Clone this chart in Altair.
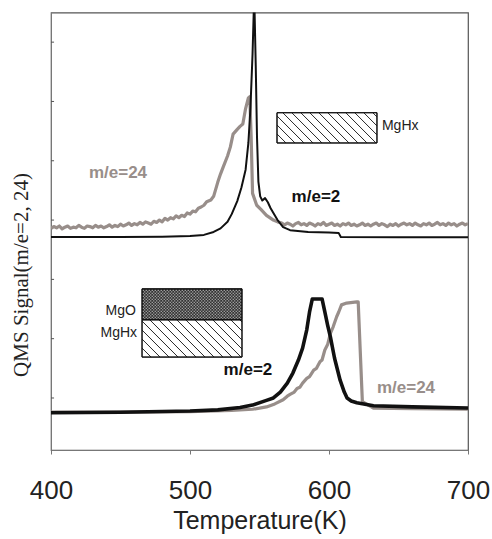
import altair as alt
import pandas as pd

# ---------------- data ----------------
# upper trace, m/e=24 (gray)
up24_T = [400, 402, 404, 406, 408, 410, 412, 414, 416, 418, 420, 422, 424, 426, 428, 430, 432, 434, 436, 438,
          440, 442, 444, 446, 448, 450, 452, 454, 456, 458, 460, 462, 464, 466, 468, 470, 472, 474, 476, 478,
          480, 482, 484, 486, 488, 490, 492, 494, 496, 498, 500, 502, 504, 506, 508, 510, 512, 515, 517, 520,
          522, 524, 527, 529, 531, 534, 536, 538, 540, 542, 543, 544, 545, 548, 551, 555, 560, 563,
          566, 568, 570, 572, 574, 576, 578, 580, 582, 584, 586, 588, 590, 592, 594, 596, 598, 600,
          602, 604, 606, 608, 610, 612, 614, 616, 618, 620, 622, 624, 626, 628, 630, 632, 634, 636,
          638, 640, 642, 644, 646, 648, 650, 652, 654, 656, 658, 660, 662, 664, 666, 668, 670, 672,
          674, 676, 678, 680, 682, 684, 686, 688, 690, 692, 694, 696, 698, 700]
up24_S = [2.86, 2.89, 2.87, 2.90, 2.85, 2.88, 2.90, 2.86, 2.88, 2.87, 2.91, 2.88, 2.86, 2.90, 2.89, 2.87, 2.91, 2.88, 2.90, 2.87,
          2.89, 2.92, 2.88, 2.91, 2.89, 2.93, 2.90, 2.92, 2.95, 2.91, 2.94, 2.92, 2.96, 2.93, 2.97, 2.95, 2.93, 2.98, 2.96, 3.00,
          2.97, 3.03, 3.00, 3.04, 3.02, 3.07, 3.04, 3.08, 3.06, 3.12, 3.10, 3.15, 3.14, 3.20, 3.22, 3.25, 3.31, 3.34, 3.40, 3.64,
          3.78, 3.90, 4.08, 4.23, 4.45, 4.53, 4.58, 4.62, 4.88, 5.06, 5.08, 4.40, 3.45, 3.25, 3.18, 3.08, 3.00, 2.97,
          2.95, 2.92, 2.95, 2.93, 2.90, 2.94, 2.96, 2.92, 2.94, 2.91, 2.95, 2.93, 2.90, 2.94, 2.92, 2.96, 2.91, 2.93,
          2.95, 2.91, 2.93, 2.90, 2.94, 2.92, 2.95, 2.91, 2.93, 2.90, 2.92, 2.95, 2.91, 2.93, 2.90, 2.93, 2.95, 2.91,
          2.94, 2.92, 2.89, 2.93, 2.91, 2.94, 2.90, 2.93, 2.95, 2.92, 2.94, 2.91, 2.95, 2.92, 2.90, 2.94, 2.92, 2.95,
          2.91, 2.93, 2.96, 2.92, 2.94, 2.91, 2.95, 2.92, 2.94, 2.90, 2.93, 2.95, 2.92, 2.94]

# upper trace, m/e=2 (black)
up2_T = [400, 450, 480, 500, 510, 517, 522, 527, 530, 534, 537, 540, 542, 543.5, 545, 546.2, 547.3, 548.2,
         549.2, 550.5, 552, 554, 556, 558, 560, 563, 567, 572, 585, 600, 607, 608.5, 650, 700]
up2_S = [2.715, 2.715, 2.72, 2.73, 2.75, 2.80, 2.86, 2.97, 3.10, 3.32, 3.55, 3.85, 4.30, 4.90, 5.80, 6.80, 5.60, 4.40,
         3.65, 3.40, 3.33, 3.37, 3.30, 3.20, 3.12, 3.00, 2.88, 2.83, 2.80, 2.79, 2.78, 2.715, 2.71, 2.71]

# lower trace, m/e=2 (black)
lo2_T = [400, 450, 500, 520, 536, 545, 555, 560, 565, 570, 574, 578, 581, 584, 586, 588, 595, 597, 599, 601,
         604, 608, 611, 613, 616, 620, 632, 660, 700]
lo2_S = [-0.25, -0.24, -0.22, -0.20, -0.16, -0.12, -0.04, 0.00, 0.10, 0.25, 0.42, 0.64, 0.84, 1.15, 1.45, 1.67,
         1.67, 1.45, 1.23, 1.03, 0.67, 0.30, 0.10, 0.00, -0.05, -0.08, -0.13, -0.15, -0.17]

# lower trace, m/e=24 (gray)
lo24_T = [400, 450, 500, 530, 545, 555, 561, 567, 570, 572, 575, 577, 579, 581, 584, 586, 589, 591, 593.5, 595,
          597, 599, 601, 603, 605.5, 607, 609, 612.7, 620, 621, 624, 632, 660, 699, 700]
lo24_S = [-0.24, -0.24, -0.23, -0.21, -0.19, -0.15, -0.10, -0.03, 0.03, 0.06, 0.10, 0.16, 0.18, 0.25, 0.33, 0.36,
          0.47, 0.50, 0.61, 0.64, 0.81, 0.90, 1.09, 1.20, 1.37, 1.45, 1.57, 1.60, 1.62, 1.62, -0.06, -0.17, -0.18,
          -0.19, -0.19]

x_ticks = [400, 500, 600, 700]
y_ticks = [0, 1, 2, 3, 4, 5, 6]

# annotation layout (data units)
labels_txt = ["m/e=24", "m/e=2", "m/e=2", "m/e=24"]
labels_T = [448.2, 590.6, 541.7, 655.4]
labels_S = [3.79, 3.39, 0.47, 0.17]
labels_col = ["#988e8a", "#111111", "#111111", "#988e8a"]

layer_names = ["MgHx", "MgO", "MgHx"]
layer_T = [638.1, 461.1, 461.9]
layer_S = [4.59, 1.46, 1.10]
layer_align = ["left", "right", "right"]

# rectangles: (T1, T2, S_top, S_bottom)
hatch_rects = [(562.6, 634.5, 4.81, 4.30), (465.5, 537.4, 1.32, 0.69)]
dot_rect = (465.5, 537.4, 1.84, 1.32)

# ---------------- geometry ----------------
W, H = 417, 437.5
XD = (400, 700)
YD = (-0.877, 6.5)
GRAY = "#988e8a"


def t2px(t):
    return (t - XD[0]) / (XD[1] - XD[0]) * W


def s2py(s):
    return H - (s - YD[0]) / (YD[1] - YD[0]) * H


def px2t(p):
    return XD[0] + p / W * (XD[1] - XD[0])


def py2s(p):
    return YD[0] + (H - p) / H * (YD[1] - YD[0])


def hatch_lines(rect, spacing=9.0):
    t1, t2, s1, s2 = rect
    x1, x2 = t2px(t1), t2px(t2)
    y1, y2 = s2py(s1), s2py(s2)
    h = y2 - y1
    rows = []
    x0 = x1 - h
    while x0 < x2:
        ya, yb = y1, y2
        if x0 < x1:
            ya = y1 + (x1 - x0)
        if x0 + h > x2:
            yb = y1 + (x2 - x0)
        if yb > ya:
            rows.append({"t": px2t(x0 + (ya - y1)), "s": py2s(ya),
                         "t2": px2t(x0 + (yb - y1)), "s2": py2s(yb)})
        x0 += spacing
    return rows


hatch = []
for r in hatch_rects:
    hatch += hatch_lines(r)
hatch_df = pd.DataFrame(hatch)

dots = []
t1, t2, s1, s2 = dot_rect
xa, xb, ya, yb = t2px(t1), t2px(t2), s2py(s1), s2py(s2)
row = 0
yy = ya + 1.5
while yy < yb - 0.5:
    xx = xa + 1.2 + (1.5 if row % 2 else 0)
    while xx < xb - 0.5:
        dots.append({"t": px2t(xx), "s": py2s(yy)})
        xx += 3.0
    yy += 1.5
    row += 1
dots_df = pd.DataFrame(dots)

rects_df = pd.DataFrame(
    [{"t": r[0], "t2": r[1], "s": r[2], "s2": r[3], "fill": "#ffffff"} for r in hatch_rects]
    + [{"t": dot_rect[0], "t2": dot_rect[1], "s": dot_rect[2], "s2": dot_rect[3], "fill": "#333333"}]
)

# ---------------- chart ----------------
xs = alt.Scale(domain=list(XD), nice=False, zero=False)
ys = alt.Scale(domain=list(YD), nice=False, zero=False)

FONT = "Liberation Sans"

x_enc = alt.X("t:Q", scale=xs, axis=alt.Axis(
    values=x_ticks, title="Temperature(K)", grid=False, format="d",
    labelFont=FONT, labelFontSize=26, labelColor="#222", labelBaseline="alphabetic",
    labelPadding=44, tickSize=4, tickColor="#777", domainColor="#777",
    titleFont=FONT, titleFontSize=25, titleFontWeight="normal", titleColor="#222",
    titleBaseline="alphabetic", titleY=78, titleX=208.5, labelFlush=False))
y_enc = alt.Y("s:Q", scale=ys, axis=alt.Axis(
    values=y_ticks, title="QMS Signal(m/e=2, 24)", grid=False, labels=False, ticks=False,
    domainColor="#777", titleFont="Liberation Serif", titleFontSize=21, titleFontWeight="normal",
    titleColor="#222", titleAngle=-90, titleBaseline="middle", titleAlign="center",
    titleX=-30, titleY=262))


def line_layer(T, S, color, width):
    df = pd.DataFrame({"t": T, "s": S})
    return alt.Chart(df).mark_line(color=color, strokeWidth=width, clip=True,
                                   strokeJoin="round").encode(x=x_enc, y=y_enc)


ytick_df = pd.DataFrame({"t": [400] * len(y_ticks), "t2": [402.2] * len(y_ticks), "s": y_ticks})
yticks = alt.Chart(ytick_df).mark_rule(color="#555", strokeWidth=1).encode(
    x=x_enc, x2="t2:Q", y=y_enc)

lines = [
    line_layer(up24_T, up24_S, GRAY, 3.2),
    line_layer(up2_T, up2_S, "#111111", 2.0),
    line_layer(lo24_T, lo24_S, GRAY, 3.2),
    line_layer(lo2_T, lo2_S, "#111111", 3.6),
]

rect_fill = alt.Chart(rects_df).mark_rect(stroke="#111", strokeWidth=1).encode(
    x=x_enc, x2="t2:Q", y=y_enc, y2="s2:Q",
    fill=alt.Fill("fill:N", scale=None))
hatch_layer = alt.Chart(hatch_df).mark_rule(color="#111", strokeWidth=0.9).encode(
    x=x_enc, x2="t2:Q", y=y_enc, y2="s2:Q")
dot_layer = alt.Chart(dots_df).mark_square(size=1.3, color="#b8b8b8", opacity=1).encode(
    x=x_enc, y=y_enc)
rect_outline = alt.Chart(rects_df).mark_rect(stroke="#111", strokeWidth=1, fillOpacity=0).encode(
    x=x_enc, x2="t2:Q", y=y_enc, y2="s2:Q")

ann_df = pd.DataFrame({"t": labels_T, "s": labels_S, "txt": labels_txt, "col": labels_col})
ann = alt.Chart(ann_df).mark_text(font=FONT, fontSize=17, fontWeight="bold",
                                  align="center", baseline="middle").encode(
    x=x_enc, y=y_enc, text="txt:N", color=alt.Color("col:N", scale=None))

lay_df = pd.DataFrame({"t": layer_T, "s": layer_S, "txt": layer_names, "al": layer_align})
lay_left = alt.Chart(lay_df[lay_df["al"] == "left"]).mark_text(
    font=FONT, fontSize=14, color="#222", align="left", baseline="middle").encode(
    x=x_enc, y=y_enc, text="txt:N")
lay_right = alt.Chart(lay_df[lay_df["al"] == "right"]).mark_text(
    font=FONT, fontSize=14, color="#222", align="right", baseline="middle").encode(
    x=x_enc, y=y_enc, text="txt:N")

chart = alt.layer(
    yticks, rect_fill, hatch_layer, dot_layer, rect_outline, *lines, ann, lay_left, lay_right
).properties(
    width=W, height=H,
    padding={"left": 51, "top": 12.5, "right": 24, "bottom": 89},
    autosize=alt.AutoSizeParams(type="none"),
    background="white",
).configure_view(stroke="#555", strokeWidth=1.2)

chart.save("out.html", embed_options={"renderer": "svg", "actions": False})
